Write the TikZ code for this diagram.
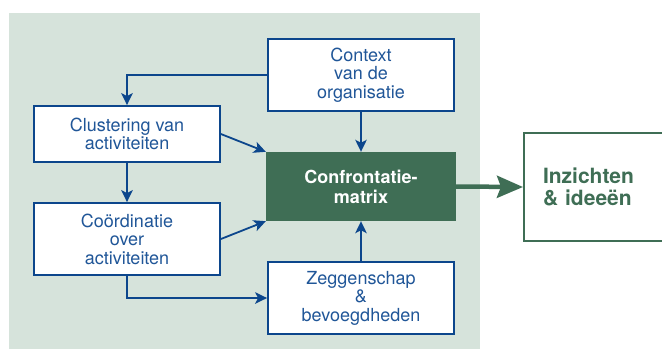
\documentclass[tikz,border=0pt]{standalone}
\usepackage{fontspec}
\setmainfont{TeX Gyre Heros}
\usetikzlibrary{arrows.meta,positioning,calc}
\definecolor{bggreen}{RGB}{214,227,219}
\definecolor{lineblue}{RGB}{12,70,140}
\definecolor{txtblue}{RGB}{32,86,152}
\definecolor{darkgreen}{RGB}{63,110,85}
\tikzset{
    flow/.style={-{Stealth[length=12pt,width=11.5pt,inset=3pt]}, draw=lineblue, line width=1.8pt},
    bigflow/.style={-{Stealth[length=26pt,width=22pt,inset=4pt]}, draw=darkgreen, line width=4.5pt},
    el/.style={font=\fontsize{18pt}{18.5pt}\selectfont}
}

\begin{document}
\begin{tikzpicture}[
  x=1pt, y=-1pt,
  mynode/.style={draw=lineblue, line width=1.8pt, fill=white, text=txtblue, align=center,
    minimum width=186pt, inner sep=0pt, el},
  matnode/.style={fill=darkgreen, text=white, align=center, minimum width=190pt,
    minimum height=69pt, inner sep=0pt, font=\bfseries\fontsize{18pt}{20pt}\selectfont},
  outnode/.style={draw=darkgreen, line width=2pt, fill=white, text=darkgreen, align=left,
    text width=140pt, inner xsep=19pt, minimum height=108pt,
    font=\bfseries\fontsize{21pt}{22pt}\selectfont}
]
\useasboundingbox (0,0) rectangle (662,349);

% Background
\fill[bggreen] (9,13) rectangle (480,349);

% Nodes
\node[matnode] (mat) at (361,186.5) {Confrontatie-\\matrix};
\node[mynode, minimum height=72pt] (ctx) at (361,75) {Context\\van de\\organisatie};
\node[mynode, minimum height=56pt] (clus) at (127,134) {Clustering van\\activiteiten};
\node[mynode, minimum height=72pt] (coord) at (127,239) {Coördinatie\\over\\activiteiten};
\node[mynode, minimum height=72pt] (zeg) at (361,298) {Zeggenschap\\\&\\bevoegdheden};
\node[outnode, anchor=west] (ins) at (523,187) {Inzichten\\\& ideeën};

% Paths
\draw[flow] (ctx.west) -| (clus.north);
\draw[flow] (ctx.south) -- (mat.north);
\draw[flow] (clus.east) -- (mat.north west);
\draw[flow] (clus.south) -- (coord.north);
\draw[flow] (coord.east) -- (mat.south west);
\draw[flow] (coord.south) |- (zeg.west);
\draw[flow] (zeg.north) -- (mat.south);
\draw[bigflow] (mat.east) -- (ins.west);

\end{tikzpicture}
\end{document}
